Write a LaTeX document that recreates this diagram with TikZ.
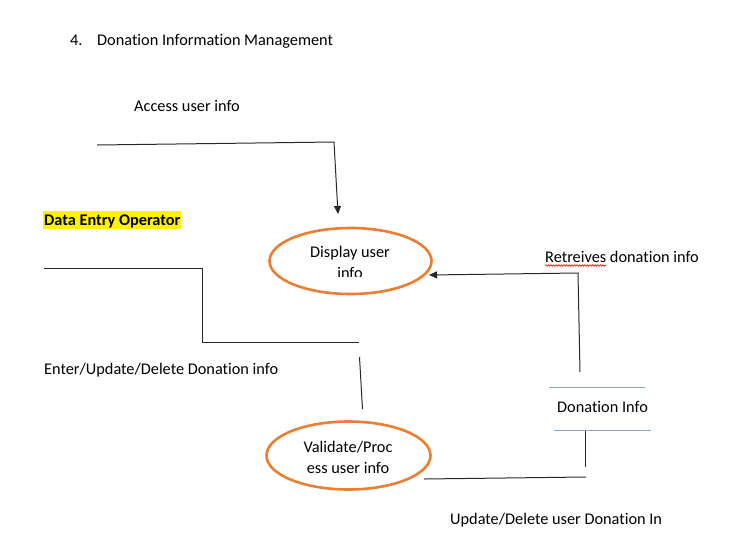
\documentclass[tikz,border=0pt]{standalone}
\usepackage{fontspec}
\setmainfont{Carlito}[Ligatures={NoCommon,NoContextual}]
\usetikzlibrary{arrows.meta,decorations.pathmorphing}
\definecolor{procorange}{RGB}{237,125,49}
\definecolor{storeblue}{RGB}{132,164,200}
\definecolor{linegray}{RGB}{40,40,40}
\tikzset{
  lbl/.style={anchor=base west, inner sep=0pt, font=\fontsize{16.3}{19}\selectfont},
  flow/.style={draw=linegray, line width=1pt},
  arrowflow/.style={flow, -{Triangle[length=8pt,width=7pt]}},
  proc/.style={draw=procorange, line width=2.6pt},
  storeline/.style={draw=storeblue, line width=1.2pt},
}
\begin{document}
\begin{tikzpicture}[x=1pt,y=-1pt]
\useasboundingbox (0,0) rectangle (739,544);
% title
\node[lbl] (num) at (70,45) {4.};
\node[lbl] (title) at (97,45) {Donation Information Management};
% labels
\node[lbl] (access) at (134,111) {Access user info};
\fill[yellow] (43,211) rectangle (181,229);
\node[lbl, font=\fontsize{16.3}{19}\selectfont\bfseries] (deo) at (44,225) {Data Entry Operator};
\node[lbl] (enter) at (44,374) {Enter/Update/Delete Donation info};
\node[lbl] (retr) at (545,262) {Retreives donation info};
\draw[red, line width=0.6pt, decoration={snake, amplitude=0.8pt, segment length=2.6pt}, decorate] (545,265.5) -- (606,265.5);
\node[lbl] (upd) at (450,524) {Update/Delete user Donation In};
% processes
\draw[proc] (350.5,261) ellipse [x radius=81, y radius=33];
\node[inner sep=0pt, minimum width=162pt, minimum height=66pt] (p1) at (350.5,261) {};
\begin{scope}
  \clip (300,240) rectangle (400,276.5);
  \node[lbl, anchor=base] (p1a) at (350,257) {Display user};
  \node[lbl, anchor=base] (p1b) at (350,278.5) {info};
\end{scope}
\draw[proc] (348.5,455.5) ellipse [x radius=82, y radius=34];
\node[inner sep=0pt, minimum width=164pt, minimum height=68pt] (p2) at (348.5,455.5) {};
\node[lbl, anchor=base] (p2a) at (348,452) {Validate/Proc};
\node[lbl, anchor=base] (p2b) at (348,473) {ess user info};
% data store
\draw[storeline] (549,387.5) coordinate (s1a) -- (645,387.5) coordinate (s1b);
\draw[storeline] (554,430.5) coordinate (s2a) -- (651,430.5) coordinate (s2b);
\node[lbl] (store) at (557,412) {Donation Info};
% connectors
\coordinate (a0) at (97,145);
\coordinate (a1) at (334,142);
\coordinate (a2) at (338,214);
\draw[arrowflow] (a0) -- (a1) -- (a2);
\coordinate (e0) at (44,268.5);
\coordinate (e1) at (202,268.5);
\coordinate (e2) at (202,342);
\coordinate (e3) at (359,342);
\draw[flow] (e0) -- (e1) -- (e2) -- (e3);
\coordinate (v0) at (359.5,357);
\coordinate (v1) at (362.5,409);
\draw[flow] (v0) -- (v1);
\coordinate (r0) at (580,372);
\coordinate (r1) at (578,273);
\coordinate (r2) at (429,275);
\draw[arrowflow] (r0) -- (r1) -- (r2);
\coordinate (u0) at (424,479);
\coordinate (u1) at (586,477);
\draw[flow] (u0) -- (u1);
\coordinate (w0) at (585,431);
\coordinate (w1) at (585,466.5);
\draw[flow] (w0) -- (w1);
\end{tikzpicture}
\end{document}
